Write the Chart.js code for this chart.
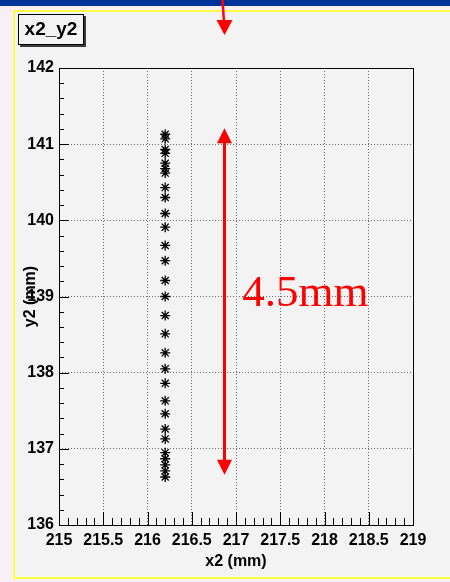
<!DOCTYPE html>
<html>
<head>
<meta charset="utf-8">
<script src="https://cdn.jsdelivr.net/npm/chart.js@4/dist/chart.umd.min.js"></script>
<style>
html,body{margin:0;padding:0;background:#f8f0f6;}
canvas{display:block;}
</style>
</head>
<body>
<canvas id="c" width="450" height="582"></canvas>
<script>
// ---- data ----
const chartTitle = "x2_y2";
const xTitle = "x2 (mm)";
const yTitle = "y2 (mm)";
const xMin = 215, xMax = 219;
const yMin = 136, yMax = 142;
const xValues = [216.2,216.2,216.2,216.2,216.2,216.2,216.2,216.2,216.2,216.2,216.2,216.2,216.2,216.2,
                 216.2,216.2,216.2,216.2,216.2,216.2,216.2,216.2,216.2,216.2,216.2,216.2,216.2,216.2,216.2];
const yValues = [141.13,141.07,140.93,140.88,140.75,140.68,140.62,140.43,140.30,140.09,139.91,139.67,139.47,139.21,
                 139.00,138.75,138.51,138.26,138.05,137.86,137.63,137.46,137.26,137.13,136.95,136.87,136.79,136.71,136.63];
const annotationText = "4.5mm";
const arrowX = 216.87, arrowTop = 141.21, arrowBottom = 136.66;
const textX = 217.07, textY = 138.87;

const points = xValues.map((x, i) => ({x: x, y: yValues[i]}));

const isMult = (v, m) => Math.abs(v / m - Math.round(v / m)) < 1e-6;
const FONT = "'Liberation Sans', Arial, Helvetica, sans-serif";

const decorPlugin = {
  id: 'decor',
  beforeDraw(chart) {
    const ctx = chart.ctx;
    ctx.save();
    ctx.fillStyle = '#f8f0f6';
    ctx.fillRect(0, 0, 450, 582);
    ctx.fillStyle = '#003399';
    ctx.fillRect(0, 0, 450, 6);
    ctx.fillStyle = '#f3f3f3';
    ctx.fillRect(15, 12, 435, 565);
    ctx.fillStyle = '#ffff44';
    ctx.fillRect(13, 10, 437, 2);
    ctx.fillRect(13, 10, 2, 569);
    ctx.fillRect(13, 577, 437, 2);
    // title box
    ctx.fillStyle = '#3a3a3a';
    ctx.fillRect(20, 16, 66, 31);
    ctx.fillStyle = '#f3f3f3';
    ctx.fillRect(18, 14, 66, 31);
    ctx.strokeStyle = '#000';
    ctx.lineWidth = 1;
    ctx.strokeRect(18.5, 14.5, 65, 30);
    ctx.fillStyle = '#000';
    ctx.font = 'bold 19px ' + FONT;
    ctx.textAlign = 'center';
    ctx.textBaseline = 'middle';
    ctx.fillText(chartTitle, 51, 30);
    ctx.restore();
  },
  afterDraw(chart) {
    const ctx = chart.ctx;
    const a = chart.chartArea;
    const xs = chart.scales.x, ys = chart.scales.y;
    ctx.save();
    // frame
    ctx.strokeStyle = '#000';
    ctx.lineWidth = 1;
    ctx.strokeRect(Math.round(a.left) + 0.5, Math.round(a.top) + 0.5,
                   Math.round(a.right - a.left), Math.round(a.bottom - a.top));
    // inner ticks
    ctx.beginPath();
    xs.ticks.forEach(t => {
      const px = Math.round(xs.getPixelForValue(t.value)) + 0.5;
      const len = isMult(t.value, 0.5) ? 13 : 7;
      ctx.moveTo(px, a.bottom);
      ctx.lineTo(px, a.bottom - len);
    });
    ys.ticks.forEach(t => {
      const py = Math.round(ys.getPixelForValue(t.value)) + 0.5;
      const len = isMult(t.value, 1) ? 10 : 5;
      ctx.moveTo(a.left, py);
      ctx.lineTo(a.left + len, py);
    });
    ctx.stroke();
    // red annotation arrow
    const ax = xs.getPixelForValue(arrowX);
    const at = ys.getPixelForValue(arrowTop);
    const ab = ys.getPixelForValue(arrowBottom);
    ctx.strokeStyle = '#ff0000';
    ctx.fillStyle = '#ff0000';
    ctx.lineWidth = 3;
    ctx.beginPath();
    ctx.moveTo(ax, at + 12);
    ctx.lineTo(ax, ab - 12);
    ctx.stroke();
    ctx.beginPath();
    ctx.moveTo(ax, at); ctx.lineTo(ax - 7.5, at + 15); ctx.lineTo(ax + 7.5, at + 15); ctx.closePath();
    ctx.moveTo(ax, ab); ctx.lineTo(ax - 7.5, ab - 15); ctx.lineTo(ax + 7.5, ab - 15); ctx.closePath();
    ctx.fill();
    // top arrow
    ctx.lineWidth = 2.5;
    ctx.beginPath();
    ctx.moveTo(222.5, 0);
    ctx.lineTo(224, 22);
    ctx.stroke();
    ctx.beginPath();
    ctx.moveTo(224.5, 35); ctx.lineTo(216.5, 20); ctx.lineTo(232.5, 20); ctx.closePath();
    ctx.fill();
    // text
    ctx.font = "45px 'Liberation Serif', 'Times New Roman', serif";
    ctx.textAlign = 'left';
    ctx.textBaseline = 'alphabetic';
    ctx.fillText(annotationText, xs.getPixelForValue(textX), ys.getPixelForValue(textY));
    ctx.restore();
  }
};

new Chart(document.getElementById('c'), {
  type: 'scatter',
  data: {
    datasets: [{
      data: points,
      pointStyle: 'star',
      radius: 5,
      hoverRadius: 5,
      borderColor: '#000',
      backgroundColor: '#000',
      borderWidth: 1.3,
      showLine: false
    }]
  },
  options: {
    responsive: false,
    devicePixelRatio: 1,
    animation: false,
    events: [],
    layout: {padding: {top: 68, right: 37, bottom: 0, left: 0}},
    plugins: {legend: {display: false}, tooltip: {enabled: false}},
    scales: {
      x: {
        type: 'linear',
        min: xMin, max: xMax,
        afterFit(s) { s.height = 57; },
        ticks: {
          stepSize: 0.1,
          autoSkip: false,
          maxRotation: 0, minRotation: 0,
          padding: 6,
          color: '#000',
          font: {family: FONT, size: 16, weight: 'bold'},
          callback: v => isMult(v, 0.5) ? String(Math.round(v * 10) / 10) : ''
        },
        grid: {
          drawTicks: false,
          lineWidth: 1,
          color: c => (c.tick && isMult(c.tick.value, 0.5) && c.tick.value > xMin && c.tick.value < xMax) ? '#6a6a6a' : 'rgba(0,0,0,0)'
        },
        border: {display: false, dash: [1, 2]},
        title: {
          display: true, text: xTitle, color: '#000',
          font: {family: FONT, size: 16, weight: 'bold'},
          padding: {top: 0, bottom: 10.4}
        }
      },
      y: {
        type: 'linear',
        min: yMin, max: yMax,
        afterFit(s) { s.width = 59; },
        ticks: {
          stepSize: 0.2,
          autoSkip: false,
          padding: 5,
          color: '#000',
          font: {family: FONT, size: 16, weight: 'bold'},
          callback: v => isMult(v, 1) ? String(Math.round(v)) : ''
        },
        grid: {
          drawTicks: false,
          lineWidth: 1,
          color: c => (c.tick && isMult(c.tick.value, 1) && c.tick.value > yMin && c.tick.value < yMax) ? '#6a6a6a' : 'rgba(0,0,0,0)'
        },
        border: {display: false, dash: [1, 2]},
        title: {
          display: true, text: yTitle, color: '#000',
          font: {family: FONT, size: 16, weight: 'bold'},
          padding: {top: 21, bottom: 0}
        }
      }
    }
  },
  plugins: [decorPlugin]
});
</script>
</body>
</html>
